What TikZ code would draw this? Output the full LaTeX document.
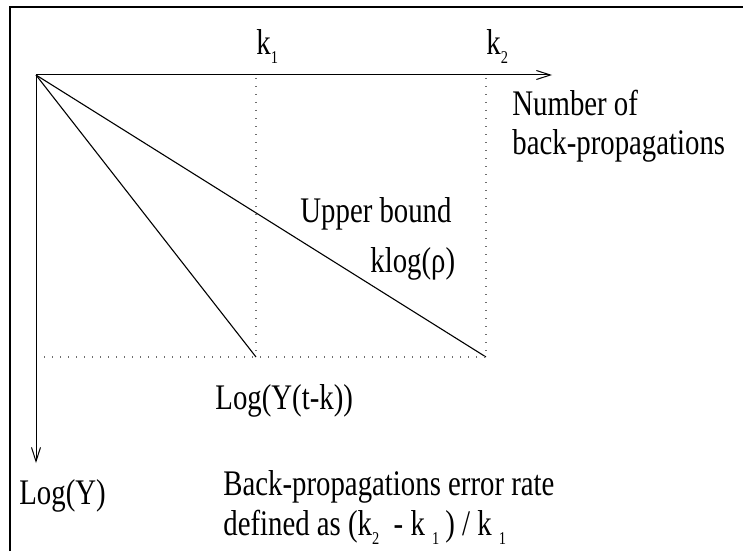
\documentclass[tikz,border=0pt]{standalone}
\usepackage{fontspec}
\setmainfont{Liberation Serif}[FakeStretch=0.8]
\usetikzlibrary{arrows.meta,positioning}
\definecolor{figblack}{HTML}{000000}
\definecolor{figgray}{HTML}{6E6E6E}
\newcommand{\lsub}[1]{\raisebox{-4.5pt}{\fontsize{9}{9}\selectfont #1}}
\tikzset{
  frame/.style={draw=figblack,line width=1.1pt},
  axis/.style={draw=figblack,line width=0.5pt,-{Straight Barb[length=7pt,width=4.5pt]}},
  guide/.style={draw=figgray,line width=0.7pt,dash pattern=on 0.7pt off 3.3pt},
  bound/.style={draw=figblack,line width=0.55pt},
  lbl/.style={inner sep=0pt,anchor=base west,font=\fontsize{18}{19.5}\selectfont,align=left},
}

\begin{document}
\begin{tikzpicture}[x=0.5pt,y=-0.5pt]
  \useasboundingbox (0,0) rectangle (743,551);
  \draw[frame] (10,551) -- (10,7) -- (743,7);
  % axes and guides
  \coordinate (O) at (36,75);
  \coordinate (xend) at (552,75);
  \coordinate (yend) at (36,463);
  \coordinate (base) at (36,357);
  \foreach \k/\x in {k1/256,k2/486}{
     \coordinate (\k) at (\x,357); \coordinate (ax\k) at (\x,78);
     \draw[guide] (ax\k) -- (\k);
     \draw[bound] (O) -- (\k);}
  \draw[guide] (base) -- (k2);
  \draw[axis] (O) -- (xend);
  \draw[axis] (O) -- (yend);
  % labels
  \node[lbl] (k1lbl) at (256,55) {k\lsub{1}};
  \node[lbl] (k2lbl) at (486,55) {k\lsub{2}};
  \node[lbl] (xlbl) at (512,154) {Number of\\back-propagations};
  \node[lbl] (upper) at (300,222) {Upper bound};
  \node[lbl] (slope) at (370,272) {klog(ρ)};
  \node[lbl] (ytk) at (215,409) {Log(Y(t-k))};
  \node[lbl] (ylbl) at (19,504) {Log(Y)};
  \node[lbl,font=\fontsize{18}{20}\selectfont] (rate) at (223,535) {Back-propagations error rate\\defined as (k\lsub{2}\ \ - k \lsub{1}\,) / k \lsub{1}};
\end{tikzpicture}
\end{document}
